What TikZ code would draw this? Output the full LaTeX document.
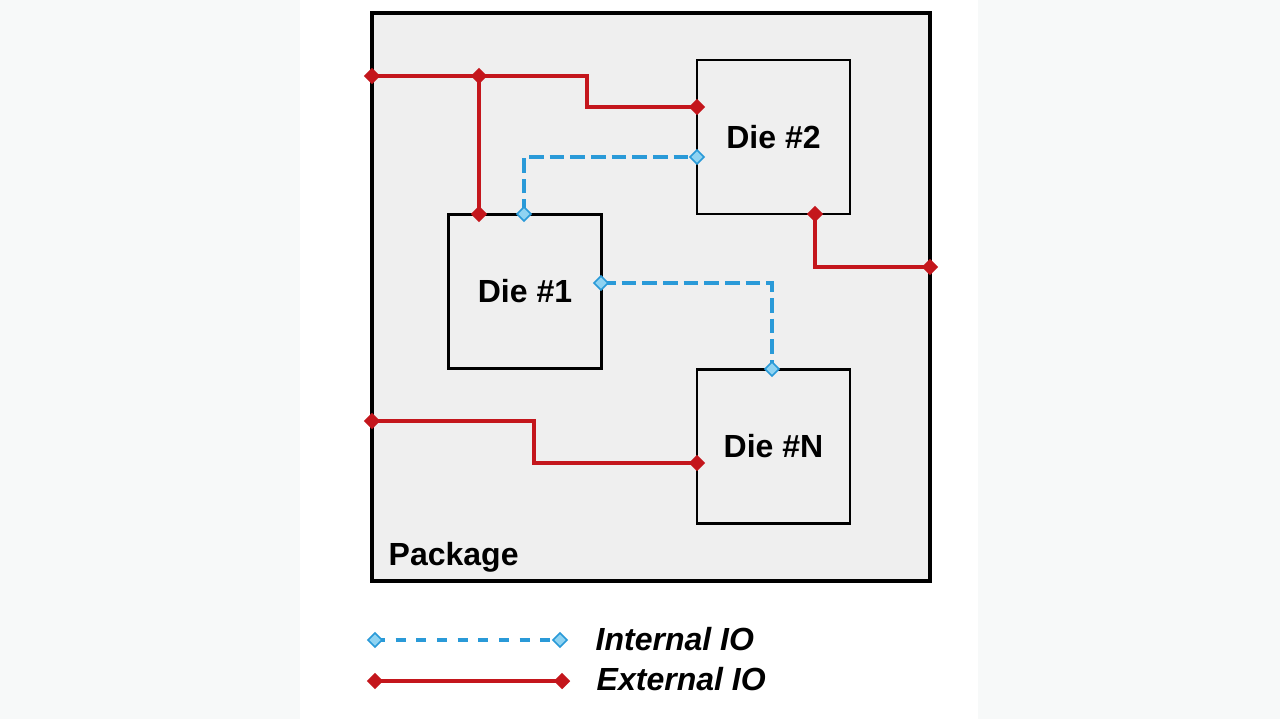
\documentclass[tikz,border=0pt]{standalone}
\usepackage{fontspec}
\setmainfont{Liberation Sans}
\usetikzlibrary{shapes.geometric}
\definecolor{pkgfill}{HTML}{EFEFEF}
\definecolor{iored}{HTML}{C4161C}
\definecolor{ioblue}{HTML}{2A9AD8}
\definecolor{pinblue}{HTML}{8FD3F2}
\definecolor{pagebg}{HTML}{F7F9F9}
\begin{document}
\begin{tikzpicture}[x=0.75pt,y=-0.75pt,
  lbl/.style={font=\bfseries\fontsize{24}{28}\selectfont},
  legendtext/.style={font=\bfseries\itshape\fontsize{24}{28}\selectfont, anchor=base west},
  pkg/.style={draw=black, line width=2.6pt, fill=pkgfill, inner sep=0pt},
  die/.style={draw=black, line width=1.6pt, fill=pkgfill, inner sep=0pt,
    minimum width=114.75pt, minimum height=115.5pt, lbl},
  ext/.style={draw=iored, line width=3pt},
  int/.style={draw=ioblue, line width=3pt, dash pattern=on 11pt off 4.5pt},
  intleg/.style={draw=ioblue, line width=3pt, dash pattern=on 7.5pt off 8pt},
  redpin/.style={diamond, fill=iored, inner sep=0pt, minimum width=12.5pt, minimum height=12.5pt},
  bluepin/.style={diamond, fill=pinblue, draw=ioblue, line width=1.2pt, inner sep=0pt, minimum width=11pt, minimum height=11pt}]
% background
\fill[pagebg] (0,0) rectangle (1280,719);
\fill[white] (300,0) rectangle (978,719);
\useasboundingbox (0,0) rectangle (1280,719);
% package and dies
\node[pkg, minimum width=418.5pt, minimum height=426pt] (pkg) at (651,297) {};
\node[lbl, anchor=base west] (pkglbl) at (384,565) {Package};
\node[die] (d2) at (773.5,137) {Die \#2};
\node[die] (d1) at (525,291.5) {Die \#1};
\node[die] (dn) at (773.5,446.5) {Die \#N};
% connection points
\coordinate (e1a) at (372,76);
\coordinate (j1) at (479,76);
\coordinate (b1) at (587,76);
\coordinate (e1b) at (697,107);
\coordinate (e2b) at (479,214);
\coordinate (e3a) at (815,214);
\coordinate (e3b) at (930,267);
\coordinate (e4a) at (372,421);
\coordinate (b4) at (534,421);
\coordinate (e4b) at (697,463);
\coordinate (i1a) at (524,214);
\coordinate (i1b) at (697,157);
\coordinate (i2a) at (601,283);
\coordinate (i2b) at (772,369);
% external IO
\draw[ext] (e1a) -- (j1) -- (b1) |- (e1b);
\draw[ext] (j1) -- (e2b);
\draw[ext] (e3a) |- (e3b);
\draw[ext] (e4a) -- (b4) |- (e4b);
% internal IO
\draw[int] (i1a) |- (i1b);
\draw[int] (i2a) -| (i2b);
% pins
\foreach \p in {e1a,j1,e1b,e2b,e3a,e3b,e4a,e4b} \node[redpin] at (\p) {};
\foreach \p in {i1a,i1b,i2a,i2b} \node[bluepin] at (\p) {};
% legend
\coordinate (la) at (375,640);
\coordinate (lb) at (560,640);
\coordinate (lc) at (375,681);
\coordinate (ld) at (562,681);
\draw[intleg] (la) -- (lb);
\draw[ext] (lc) -- (ld);
\node[bluepin] at (la) {};
\node[bluepin] at (lb) {};
\node[redpin] at (lc) {};
\node[redpin] at (ld) {};
\node[legendtext] (lint) at (591,650) {Internal IO};
\node[legendtext] (lext) at (592,690) {External IO};
\end{tikzpicture}
\end{document}
